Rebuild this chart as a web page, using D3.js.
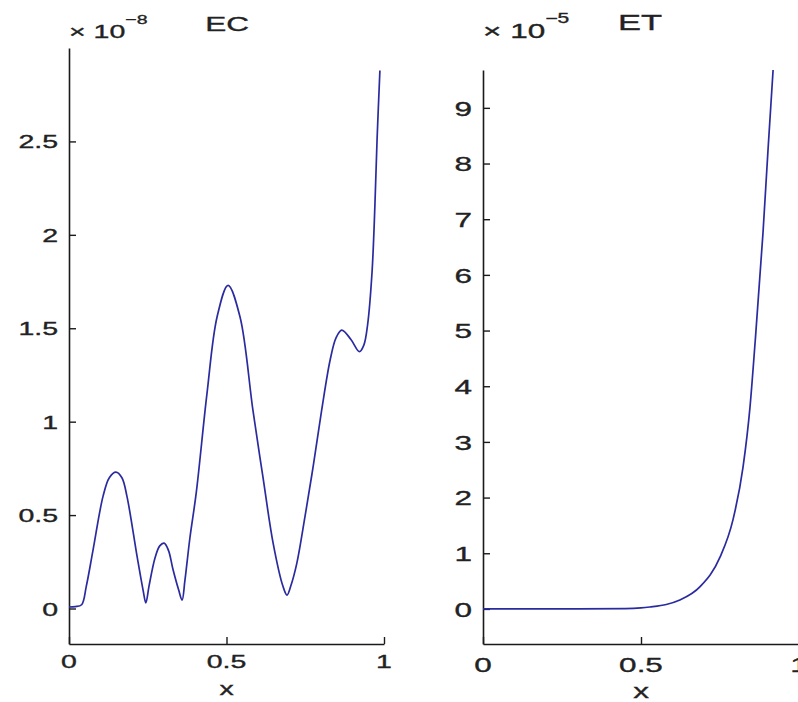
<!DOCTYPE html>
<html>
<head>
<meta charset="utf-8">
<script src="https://cdn.jsdelivr.net/npm/d3@7"></script>
<style>
  html, body { margin: 0; padding: 0; background: #fff; }
  svg { display: block; }
  text { font-family: "Liberation Sans", Arial, Helvetica, sans-serif; fill: #222; stroke: #222; stroke-width: 0.35px; }
</style>
</head>
<body>
<svg id="chart" width="798" height="702"></svg>
<script>
// ---- Data ----
const ecX = [0, 0.02, 0.04, 0.055, 0.076, 0.108, 0.128, 0.149, 0.168, 0.184, 0.216, 0.235, 0.244, 0.254, 0.273, 0.288, 0.302, 0.316, 0.330, 0.348, 0.359, 0.368, 0.384, 0.404, 0.438, 0.470, 0.505, 0.543, 0.584, 0.616, 0.648, 0.679, 0.692, 0.704, 0.723, 0.749, 0.776, 0.802, 0.829, 0.848, 0.866, 0.895, 0.922, 0.936, 0.948, 0.962, 0.971, 0.978, 0.987];
const ecY = [0.008, 0.01, 0.02, 0.12, 0.31, 0.60, 0.70, 0.73, 0.70, 0.60, 0.28, 0.10, 0.03, 0.12, 0.27, 0.335, 0.35, 0.31, 0.21, 0.10, 0.045, 0.15, 0.38, 0.62, 1.15, 1.56, 1.73, 1.56, 1.06, 0.70, 0.35, 0.12, 0.072, 0.12, 0.24, 0.49, 0.77, 1.06, 1.33, 1.45, 1.49, 1.44, 1.375, 1.41, 1.52, 1.80, 2.15, 2.51, 2.88];

const etX = [0, 0.3, 0.45, 0.5, 0.528, 0.58, 0.623, 0.687, 0.75, 0.791, 0.823, 0.845, 0.861, 0.886, 0.902, 0.918];
const etY = [0, 0, 0.005, 0.018, 0.035, 0.08, 0.16, 0.40, 0.93, 1.60, 2.55, 3.63, 4.78, 6.75, 8.25, 9.68];

const ecYTicks = [0, 0.5, 1, 1.5, 2, 2.5];
const ecYLabels = ["0", "0.5", "1", "1.5", "2", "2.5"];
const etYTicks = [0, 1, 2, 3, 4, 5, 6, 7, 8, 9];
const etYLabels = ["0", "1", "2", "3", "4", "5", "6", "7", "8", "9"];
const xTicks = [0, 0.5, 1];
const xLabels = ["0", "0.5", "1"];

// ---- Drawing ----
const svg = d3.select("#chart");
const SX = 1.5;  // horizontal stretch of the text in the reference

function label(g, x, y, s, size, anchor, dy) {
  return g.append("text")
    .attr("transform", `translate(${x},${y}) scale(${SX},1)`)
    .attr("text-anchor", anchor)
    .attr("font-size", size)
    .attr("dy", dy || 0)
    .text(s);
}

function panel(cfg) {
  const g = svg.append("g");
  const x = d3.scaleLinear().domain([0, 1]).range([cfg.x0, cfg.x1]);
  const y = d3.scaleLinear().domain(cfg.yDom).range([cfg.yBottom, cfg.yTop]);

  const ya = g.append("g").attr("transform", `translate(${cfg.x0},0)`)
    .call(d3.axisLeft(y).tickValues(cfg.yTicks).tickSizeInner(-7).tickSizeOuter(0).tickFormat(""));
  const xa = g.append("g").attr("transform", `translate(0,${cfg.yBottom})`)
    .call(d3.axisBottom(x).tickValues(xTicks).tickSizeInner(-7).tickSizeOuter(0).tickFormat(""));
  [ya, xa].forEach(a => {
    a.selectAll("path.domain").attr("stroke", "#1a1a1a").attr("stroke-width", 1.6);
    a.selectAll(".tick line").attr("stroke", "#1a1a1a").attr("stroke-width", 1.4);
  });

  cfg.yTicks.forEach((v, i) => label(g, cfg.x0 - 11, y(v), cfg.yLabels[i], cfg.fs, "end", "0.37em"));
  xTicks.forEach((v, i) => label(g, x(v), cfg.xLabelBase, xLabels[i], cfg.fs, "middle"));
  label(g, x(0.5), cfg.xTitleBase, "x", cfg.fs, "middle");

  const line = d3.line().x((d, i) => x(cfg.xs[i])).y(d => y(d)).curve(cfg.curve);
  g.append("path").attr("d", line(cfg.ys))
    .attr("fill", "none").attr("stroke", "#2b2ba0").attr("stroke-width", 1.7);

  const t = g.append("text")
    .attr("transform", `translate(${cfg.x0},${cfg.expBase}) scale(${SX},1)`)
    .attr("font-size", cfg.fs);
  t.append("tspan").text("\u00d7 10");
  t.append("tspan").attr("font-size", cfg.expFs).attr("dy", -cfg.expRise).text(cfg.exp);
  label(g, cfg.titleX, cfg.titleBase, cfg.title, cfg.titleFs, "middle");
}

panel({
  x0: 69, x1: 384, yTop: 48, yBottom: 644, yDom: [-0.19, 3],
  yTicks: ecYTicks, yLabels: ecYLabels, xs: ecX, ys: ecY,
  curve: d3.curveCatmullRom.alpha(0.5),
  fs: 19, xLabelBase: 668, xTitleBase: 695,
  expBase: 38, expFs: 13, expRise: 14, exp: "\u22128",
  title: "EC", titleX: 227, titleBase: 31, titleFs: 21
});

panel({
  x0: 483, x1: 799, yTop: 70, yBottom: 644, yDom: [-0.63, 9.68],
  yTicks: etYTicks, yLabels: etYLabels, xs: etX, ys: etY,
  curve: d3.curveMonotoneX,
  fs: 21, xLabelBase: 672, xTitleBase: 698,
  expBase: 38, expFs: 14, expRise: 15, exp: "\u22125",
  title: "ET", titleX: 640, titleBase: 30, titleFs: 23
});
</script>
</body>
</html>
